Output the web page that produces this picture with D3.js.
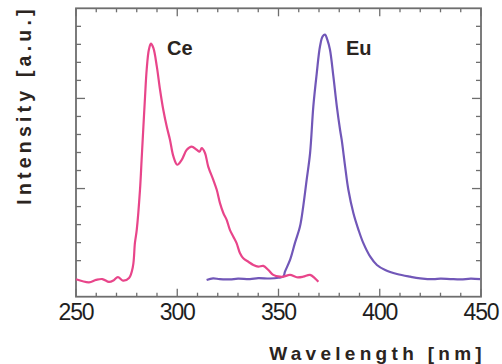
<!DOCTYPE html>
<html><head><meta charset="utf-8">
<script src="https://cdn.jsdelivr.net/npm/d3@7"></script>
<style>
html,body{margin:0;padding:0;background:#fff;}
svg{display:block;}
</style></head>
<body>
<script>
// Data (wavelength nm, intensity a.u.)
const ceWavelength = [250.0,256.4,259.9,263.0,266.3,268.5,270.7,273.2,276.2,278.1,279.1,280.0,281.6,282.4,283.2,284.1,284.9,286.0,287.0,288.2,289.9,291.5,293.1,294.8,296.4,298.1,300.0,302.2,304.7,307.1,309.6,311.0,312.1,313.7,315.3,317.8,319.5,321.1,322.8,324.4,326.0,327.7,329.3,331.0,332.6,335.1,337.6,340.0,342.5,345.0,347.4,350.7,352.4,355.7,359.0,362.2,365.6,368.0,369.7];
const ceIntensity  = [-0.03,-0.2,-0.07,-0.02,-0.18,-0.1,0.09,-0.11,0.04,0.67,1.98,2.71,4.93,6.59,8.26,10.11,11.59,12.71,13.04,12.8,11.78,10.48,9.37,8.44,7.71,6.78,6.32,6.59,7.15,7.33,7.15,7.05,7.24,6.97,6.22,5.48,4.93,4.19,3.63,3.26,2.71,2.33,1.97,1.41,1.13,0.94,0.76,0.67,0.71,0.48,0.21,0.11,0.11,0.21,0.08,0.11,0.21,0.02,-0.17];
const euWavelength = [314.5,317.7,321.0,326.0,330.0,335.9,340.0,345.8,350.0,352.4,353.2,355.7,358.1,360.6,362.2,363.9,365.6,367.2,368.9,370.5,371.8,373.0,374.1,375.4,377.1,378.8,380.4,381.2,382.9,384.5,387.0,389.5,391.9,395.3,398.6,402.7,408.5,415.0,420.0,426.5,430.0,434.8,440.0,445.0,449.6];
const euIntensity  = [-0.07,0.02,-0.03,-0.04,0.0,-0.02,0.03,0.01,0.05,0.12,0.39,1.04,1.97,2.89,4.0,5.48,6.97,9.56,11.41,12.89,13.44,13.54,13.26,12.71,11.22,9.56,8.26,7.71,6.22,4.93,3.63,2.71,1.97,1.22,0.76,0.48,0.26,0.11,0.02,-0.03,0.0,-0.02,-0.04,0.0,-0.03];
const xTicks = [250,300,350,400,450];
const xMinorTicks = d3.range(250,451,10);
const yMinorTicks = d3.range(1,15,1);
const yMajorTicks = [5,10];
const seriesLabels = ["Ce","Eu"];

const W = 502, H = 364;
const svg = d3.select("body").append("svg").attr("width",W).attr("height",H);

const x = d3.scaleLinear().domain([250,450]).range([76,481]);
const y = d3.scaleLinear().domain([-1,15]).range([296.7,8.3]);

const axisColor = "#6e6e6e";
const g = svg.append("g");

// ticks
function ticks(vals, len, side){
  vals.forEach(v=>{
    if(side==="bottom") g.append("line").attr("x1",x(v)).attr("x2",x(v)).attr("y1",y(-1)).attr("y2",y(-1)-len);
    if(side==="top") g.append("line").attr("x1",x(v)).attr("x2",x(v)).attr("y1",y(15)).attr("y2",y(15)+len);
    if(side==="left") g.append("line").attr("y1",y(v)).attr("y2",y(v)).attr("x1",x(250)).attr("x2",x(250)+len);
    if(side==="right") g.append("line").attr("y1",y(v)).attr("y2",y(v)).attr("x1",x(450)).attr("x2",x(450)-len);
  });
}
ticks(xMinorTicks.filter(v=>!xTicks.includes(v)),4,"bottom");
ticks(xTicks,8,"bottom");
ticks(xMinorTicks.filter(v=>!xTicks.includes(v)),4,"top");
ticks(xTicks,8,"top");
ticks(yMinorTicks.filter(v=>!yMajorTicks.includes(v)),5,"left");
ticks(yMajorTicks,9,"left");
ticks(yMinorTicks.filter(v=>!yMajorTicks.includes(v)),5,"right");
ticks(yMajorTicks,9,"right");
g.selectAll("line").attr("stroke",axisColor).attr("stroke-width",1.3);

// frame
svg.append("rect").attr("x",x(250)).attr("y",y(15)).attr("width",x(450)-x(250)).attr("height",y(-1)-y(15))
  .attr("fill","none").attr("stroke",axisColor).attr("stroke-width",1.8);

// lines
const line = d3.line().x(d=>x(d[0])).y(d=>y(d[1])).curve(d3.curveCatmullRom.alpha(0.5));
svg.append("path").datum(d3.zip(euWavelength,euIntensity)).attr("d",line)
  .attr("fill","none").attr("stroke","#7157b8").attr("stroke-width",2.2);
svg.append("path").datum(d3.zip(ceWavelength,ceIntensity)).attr("d",line)
  .attr("fill","none").attr("stroke","#e8458a").attr("stroke-width",2.2);

// tick labels
xTicks.forEach(v=>{
  svg.append("text").attr("x",x(v)).attr("y",320).attr("text-anchor","middle")
    .attr("font-family","Liberation Sans, Arial, sans-serif").attr("font-size",23)
    .attr("letter-spacing",-1.2).attr("fill","#1e1e1e").text(v);
});

// axis titles
svg.append("text").attr("x",486).attr("y",360).attr("text-anchor","end")
  .attr("font-family","Liberation Sans, Arial, sans-serif").attr("font-weight","bold")
  .attr("font-size",19).attr("letter-spacing",4.3).attr("fill","#2b2420").text("Wavelength [nm]");
svg.append("text").attr("transform","translate(31,105) rotate(-90)").attr("text-anchor","middle")
  .attr("font-family","Liberation Sans, Arial, sans-serif").attr("font-weight","bold")
  .attr("font-size",19.5).attr("letter-spacing",4.2).attr("fill","#2b2420").text("Intensity [a.u.]");

// series labels
svg.append("text").attr("x",167).attr("y",55).attr("font-family","Liberation Sans, Arial, sans-serif")
  .attr("font-weight","bold").attr("font-size",20).attr("fill","#2b2420").text(seriesLabels[0]);
svg.append("text").attr("x",346).attr("y",55).attr("font-family","Liberation Sans, Arial, sans-serif")
  .attr("font-weight","bold").attr("font-size",20).attr("fill","#2b2420").text(seriesLabels[1]);
</script>
</body></html>
